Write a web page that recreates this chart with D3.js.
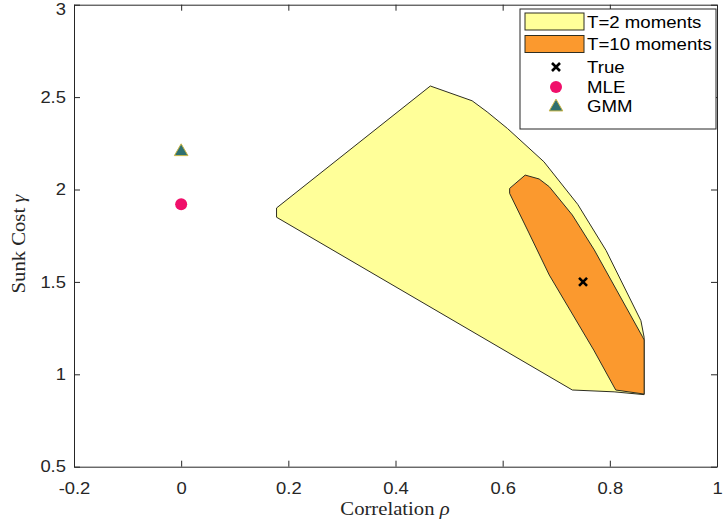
<!DOCTYPE html>
<html>
<head>
<meta charset="utf-8">
<script src="https://cdn.jsdelivr.net/npm/d3@7"></script>
<style>
  body { margin: 0; background: #fff; }
  text { font-family: "Liberation Sans", Arial, sans-serif; }
</style>
</head>
<body>
<div id="chart"></div>
<script>
var
    width = 723,
    height = 525;

// confidence region, T=2 moments
var t2Rho   = [0.178, 0.465, 0.543, 0.571, 0.609, 0.677, 0.740, 0.793, 0.858, 0.864, 0.864, 0.808, 0.730, 0.178];
var t2Gamma = [1.90,  2.56,  2.48,  2.42,  2.33,  2.15,  1.92,  1.67,  1.29,  1.20,  0.89,  0.905, 0.915, 1.85];

// confidence region, T=10 moments
var t10Rho   = [0.613, 0.642, 0.668, 0.687, 0.730, 0.771, 0.861, 0.864, 0.864, 0.811, 0.770, 0.687, 0.649, 0.613];
var t10Gamma = [2.006, 2.078, 2.057, 2.015, 1.862, 1.673, 1.203, 1.186, 0.893, 0.915, 1.131, 1.537, 1.765, 1.979];

// point estimates
var estNames = ["True", "MLE", "GMM"];
var estRho   = [0.75, 0, 0];
var estGamma = [1.5, 1.92, 2.21];

var xTicks = [-0.2, 0, 0.2, 0.4, 0.6, 0.8, 1];
var yTicks = [0.5, 1, 1.5, 2, 2.5, 3];

var axisColor = "#262626",
    yellow = "#ffff99",
    orange = "#fb992e",
    mleColor = "#f00f6a",
    gmmFill = "#2f7070",
    gmmEdge = "#c9b646";

var svg = d3.select("#chart")
    .append("svg")
    .attr("width", width)
    .attr("height", height);

svg.append("rect").attr("width", width).attr("height", height).attr("fill", "#fff");

var x = d3.scaleLinear().domain([-0.2, 1]).range([74, 717]);
var y = d3.scaleLinear().domain([0.5, 3]).range([466.7, 4.7]);

var fmt = function(d) { return String(+d.toFixed(1)); };

// regions
function region(rho, gamma, fill) {
  var pts = rho.map(function(r, i) { return [x(r), y(gamma[i])]; });
  svg.append("path")
      .attr("d", d3.line()(pts) + "Z")
      .attr("fill", fill)
      .attr("stroke", "#2e2e22")
      .attr("stroke-width", 1)
      .attr("stroke-linejoin", "round");
}
region(t2Rho, t2Gamma, yellow);
region(t10Rho, t10Gamma, orange);

// markers
function marker(g, name, cx, cy) {
  if (name === "True") {
    var s = 4;
    g.append("path")
        .attr("d", "M" + (cx - s) + "," + (cy - s) + "L" + (cx + s) + "," + (cy + s) +
                   "M" + (cx - s) + "," + (cy + s) + "L" + (cx + s) + "," + (cy - s))
        .attr("stroke", "#000").attr("stroke-width", 2.6);
  } else if (name === "MLE") {
    g.append("circle").attr("cx", cx).attr("cy", cy).attr("r", 6)
        .attr("fill", mleColor);
  } else {
    g.append("path")
        .attr("d", d3.symbol().type(d3.symbolTriangle).size(80)())
        .attr("transform", "translate(" + cx + "," + (cy + 1) + ")")
        .attr("fill", gmmFill)
        .attr("stroke", gmmEdge)
        .attr("stroke-width", 1);
  }
}

var pts = svg.append("g");
estNames.forEach(function(n, i) {
  marker(pts, n, x(estRho[i]), y(estGamma[i]));
});

// axes (box with inward ticks)
function styleAxis(g, labels) {
  g.selectAll(".domain").attr("stroke", axisColor);
  g.selectAll(".tick line").attr("stroke", axisColor);
  if (!labels) {
    g.selectAll(".tick text").remove();
  } else {
    g.selectAll(".tick text")
        .attr("fill", axisColor)
        .style("font-size", "16px")
        .attr("transform", "scale(1.15,1)");
  }
}

svg.append("g")
    .attr("transform", "translate(0," + y(0.5) + ")")
    .call(d3.axisBottom(x).tickValues(xTicks).tickSize(-6).tickSizeOuter(0).tickPadding(16).tickFormat(fmt))
    .call(styleAxis, true);

svg.append("g")
    .attr("transform", "translate(0," + y(3) + ")")
    .call(d3.axisTop(x).tickValues(xTicks).tickSize(-6).tickSizeOuter(0))
    .call(styleAxis, false);

var yAxisG = svg.append("g")
    .attr("transform", "translate(" + x(-0.2) + ",0)")
    .call(d3.axisLeft(y).tickValues(yTicks).tickSize(-6).tickSizeOuter(0).tickPadding(7).tickFormat(fmt))
    .call(styleAxis, true);

// keep the top label inside the window
yAxisG.selectAll(".tick text").filter(function(d) { return d === 3; })
    .attr("y", 5);

svg.append("g")
    .attr("transform", "translate(" + x(1) + ",0)")
    .call(d3.axisRight(y).tickValues(yTicks).tickSize(-6).tickSizeOuter(0))
    .call(styleAxis, false);

svg.selectAll("g.tick text").attr("font-family", null);

// axis titles
var xt = svg.append("text")
    .attr("transform", "translate(395,515) scale(1.15,1)")
    .attr("text-anchor", "middle")
    .style("font-family", "'Liberation Serif', 'Times New Roman', serif")
    .style("font-size", "18px")
    .attr("fill", axisColor);
xt.append("tspan").text("Correlation ");
xt.append("tspan").style("font-style", "italic").text("ρ");

var yt = svg.append("text")
    .attr("transform", "translate(25,244) rotate(-90) scale(1.15,1)")
    .attr("text-anchor", "middle")
    .style("font-family", "'Liberation Serif', 'Times New Roman', serif")
    .style("font-size", "18px")
    .attr("fill", axisColor);
yt.append("tspan").text("Sunk Cost ");
yt.append("tspan").style("font-style", "italic").text("γ");

// legend
var leg = svg.append("g");
leg.append("rect")
    .attr("x", 520).attr("y", 9)
    .attr("width", 196).attr("height", 120)
    .attr("fill", "#fff")
    .attr("stroke", axisColor);

var legItems = [
  {label: "T=2 moments", patch: yellow},
  {label: "T=10 moments", patch: orange},
  {label: "True"},
  {label: "MLE"},
  {label: "GMM"}
];
var legY = [21.5, 44, 67, 87, 106];

legItems.forEach(function(d, i) {
  var cy = legY[i];
  if (d.patch) {
    leg.append("rect")
        .attr("x", 525).attr("y", cy - 8.5)
        .attr("width", 59).attr("height", 17)
        .attr("fill", d.patch)
        .attr("stroke", "#2e2e22");
  } else {
    marker(leg, d.label, 556, cy);
  }
  leg.append("text")
      .attr("transform", "translate(587," + (cy + 6) + ") scale(1.13,1)")
      .style("font-size", "16.5px")
      .attr("fill", "#000")
      .text(d.label);
});
</script>
</body>
</html>
